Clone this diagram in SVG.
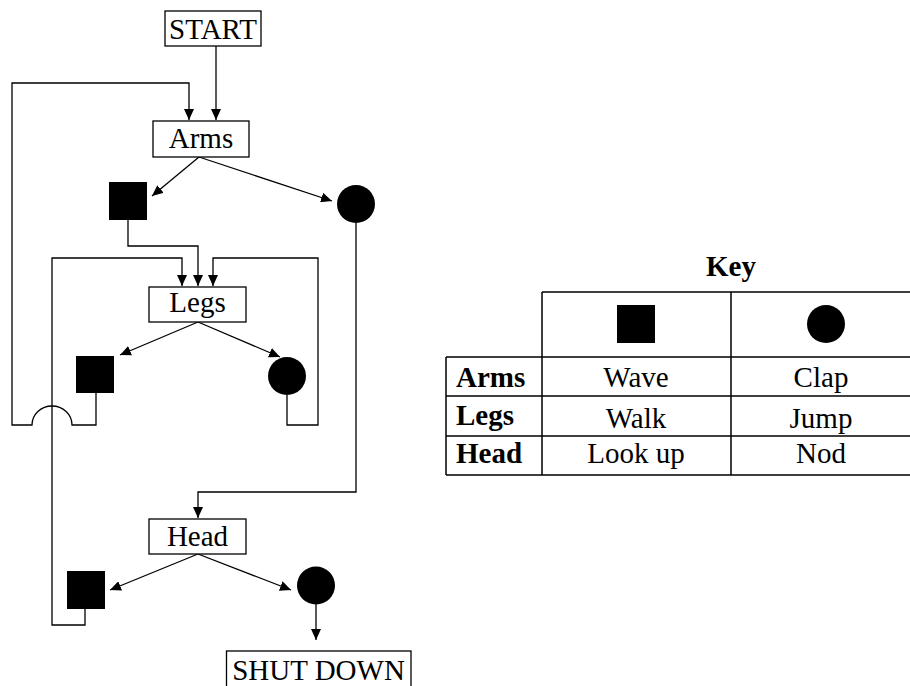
<svg xmlns="http://www.w3.org/2000/svg" width="910" height="686" viewBox="0 0 910 686">
<style>
.box{fill:#fff;stroke:#000;stroke-width:1.3}
.t{font-family:"Liberation Serif","Times New Roman",serif;font-size:29px;fill:#000;text-anchor:middle}
.b{font-weight:bold}
.l{text-anchor:start}
.c{fill:none;stroke:#000;stroke-width:1.3}
.tl{stroke:#000;stroke-width:1.5;fill:none}
</style>
<defs>
<marker id="ah" markerWidth="12" markerHeight="10" refX="11" refY="5" orient="auto" markerUnits="userSpaceOnUse">
<path d="M0,0 L11,5 L0,10 z" fill="#000"/>
</marker>
</defs>
<rect width="910" height="686" fill="#fff"/>
<g id="connectors">
<path class="c" d="M216 46 V120" marker-end="url(#ah)"/>
<path class="c" d="M96 393 V425 H72 A20 19 0 0 0 32 425 H12 V83 H189 V120" marker-end="url(#ah)"/>
<path class="c" d="M199 157 L152 196" marker-end="url(#ah)"/>
<path class="c" d="M199 157 L332 201" marker-end="url(#ah)"/>
<path class="c" d="M128 220 V246 H198 V286" marker-end="url(#ah)"/>
<path class="c" d="M356 223 V492 H198 V518" marker-end="url(#ah)"/>
<path class="c" d="M85 609 V625 H52 V258 H182 V286" marker-end="url(#ah)"/>
<path class="c" d="M287 395 V425 H318 V258 H213 V286" marker-end="url(#ah)"/>
<path class="c" d="M198 322 L120 355" marker-end="url(#ah)"/>
<path class="c" d="M198 322 L280 357" marker-end="url(#ah)"/>
<path class="c" d="M198 554 L110 590" marker-end="url(#ah)"/>
<path class="c" d="M198 554 L291 590" marker-end="url(#ah)"/>
<path class="c" d="M316 604 V640" marker-end="url(#ah)"/>
</g>
<g id="start"><rect class="box" x="165" y="11" width="96" height="35"/><text class="t" x="213" y="39">START</text></g>
<g id="arms"><rect class="box" x="153" y="121" width="96" height="36"/><text class="t" x="201" y="148">Arms</text></g>
<g id="arms-square"><rect x="109" y="182" width="38" height="38" fill="#000"/></g>
<g id="arms-circle"><circle cx="356" cy="204" r="19" fill="#000"/></g>
<g id="legs"><rect class="box" x="149" y="287" width="97" height="35"/><text class="t" x="197.5" y="312">Legs</text></g>
<g id="legs-square"><rect x="76" y="356" width="38" height="37" fill="#000"/></g>
<g id="legs-circle"><circle cx="287" cy="376" r="19" fill="#000"/></g>
<g id="head"><rect class="box" x="149" y="519" width="97" height="35"/><text class="t" x="197.5" y="546">Head</text></g>
<g id="head-square"><rect x="67" y="571" width="38" height="38" fill="#000"/></g>
<g id="head-circle"><circle cx="316" cy="585.5" r="19" fill="#000"/></g>
<g id="shutdown"><rect class="box" x="226.5" y="651" width="184.5" height="45"/><text class="t" x="318.5" y="680">SHUT DOWN</text></g>
<g id="key">
<text class="t b" x="731" y="276">Key</text>
<path class="tl" d="M542 292 H912 M542 292 V475 M731 292 V475 M446 357 H912 M446 396 H912 M446 436 H912 M446 475 H912 M446 357 V475"/>
<rect x="617" y="305" width="38" height="38" fill="#000"/>
<circle cx="826" cy="324" r="19" fill="#000"/>
<text class="t b l" x="456" y="387">Arms</text>
<text class="t" x="636" y="387">Wave</text>
<text class="t" x="821" y="387">Clap</text>
<text class="t b l" x="456" y="425">Legs</text>
<text class="t" x="636" y="428">Walk</text>
<text class="t" x="821" y="428">Jump</text>
<text class="t b l" x="456" y="463">Head</text>
<text class="t" x="636" y="463">Look up</text>
<text class="t" x="821" y="463">Nod</text>
</g>
</svg>
